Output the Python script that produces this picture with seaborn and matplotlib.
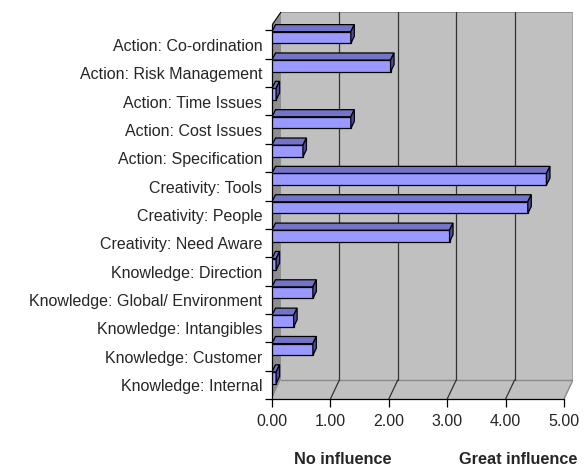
import matplotlib
matplotlib.use('Agg')
import matplotlib.pyplot as plt
import matplotlib.transforms as mtransforms
from matplotlib.patches import Polygon
import numpy as np
import pandas as pd
import seaborn as sns

# data
categories = ['Action: Co-ordination', 'Action: Risk Management',
              'Action: Time Issues', 'Action: Cost Issues',
              'Action: Specification', 'Creativity: Tools',
              'Creativity: People', 'Creativity: Need Aware',
              'Knowledge: Direction', 'Knowledge: Global/ Environment',
              'Knowledge: Intangibles', 'Knowledge: Customer',
              'Knowledge: Internal']
values = [1.35, 2.03, 0.07, 1.35, 0.53, 4.70, 4.38, 3.04, 0.07, 0.70,
          0.37, 0.70, 0.07]
x_ticks = [0, 1, 2, 3, 4, 5]
x_tick_labels = ['0.00', '1.00', '2.00', '3.00', '4.00', '5.00']
scale_labels = ['No influence', 'Great influence']

sns.set_style('white')
plt.rcParams['font.family'] = ['Liberation Sans', 'DejaVu Sans']

df = pd.DataFrame({'category': categories, 'value': values})

# 3d look: wall depth and bar depth in data units
wall_dx, wall_dy = 0.154, 0.67
bar_dx, bar_dy = 0.06, 0.25
y_top, y_front_top, y_floor, y_bottom = -0.90, -0.44, 12.08, 12.75
x_max = 5 + wall_dx

fig = plt.figure(figsize=(5.87, 4.68), dpi=100)
ax = fig.add_axes([272 / 587, 69 / 468, 301 / 587, 387 / 468])
ax.set_facecolor('white')

# back wall, left wall and floor
ax.add_patch(Polygon([(wall_dx, y_top), (x_max, y_top), (x_max, y_floor),
                      (wall_dx, y_floor)], closed=True, facecolor='#c0c0c0',
                     edgecolor='none', zorder=0))
ax.add_patch(Polygon([(0, y_bottom), (5, y_bottom), (x_max, y_floor),
                      (wall_dx, y_floor)], closed=True, facecolor='#c0c0c0',
                     edgecolor='none', zorder=0))
ax.add_patch(Polygon([(0, y_front_top), (wall_dx, y_top), (wall_dx, y_floor),
                      (0, y_bottom)], closed=True, facecolor='#8e8e8e',
                     edgecolor='none', zorder=0.2))
ax.plot([wall_dx, x_max], [y_top, y_top], color='#888888', lw=1.2, zorder=0.5)
ax.plot([x_max, x_max], [y_top, y_floor], color='#a0a0a0', lw=1.2, zorder=0.5)
ax.plot([wall_dx, x_max], [y_floor, y_floor], color='#8a8a8a', lw=1,
        zorder=0.5)
ax.plot([0, wall_dx], [y_front_top, y_top], color='black', lw=0.8, zorder=0.5)
ax.plot([5, x_max], [y_bottom, y_floor], color='#8a8a8a', lw=1, zorder=0.5)

# gridlines on the wall and the floor
for t in x_ticks[1:-1]:
    ax.plot([t + wall_dx, t + wall_dx], [y_top, y_floor], color='#333333',
            lw=0.9, zorder=0.6)
    ax.plot([t, t + wall_dx], [y_bottom, y_floor], color='#333333', lw=0.9,
            zorder=0.6)

sns.barplot(data=df, x='value', y='category', orient='h', width=0.41,
            color='#9999ff', edgecolor='black', linewidth=0.9,
            saturation=1, ax=ax, zorder=3)

# top and side faces of each bar
for bar in ax.patches:
    if not hasattr(bar, 'get_width') or isinstance(bar, Polygon):
        continue
    x0, y0 = bar.get_x(), bar.get_y()
    w, h = bar.get_width(), bar.get_height()
    top = [(x0, y0), (x0 + w, y0), (x0 + w + bar_dx, y0 - bar_dy),
           (x0 + bar_dx, y0 - bar_dy)]
    side = [(x0 + w, y0), (x0 + w, y0 + h), (x0 + w + bar_dx, y0 + h - bar_dy),
            (x0 + w + bar_dx, y0 - bar_dy)]
    ax.add_patch(Polygon(top, closed=True, facecolor='#7373c8',
                         edgecolor='black', lw=0.9, zorder=3))
    ax.add_patch(Polygon(side, closed=True, facecolor='#4d4d99',
                         edgecolor='black', lw=0.9, zorder=3))

ax.set_xlim(0, x_max)
ax.set_ylim(y_bottom, y_top)
ax.set_xlabel('')
ax.set_ylabel('')

ax.set_yticks(np.arange(len(categories)) + 0.26)
ax.set_yticklabels(categories, fontsize=11.5)
ax.set_yticks(np.arange(len(categories) + 1) - 0.25, minor=True)
ax.tick_params(axis='y', which='major', length=0, pad=7)
ax.tick_params(axis='y', which='minor', length=5, width=0.9, direction='out',
               color='black', left=True)

ax.set_xticks(x_ticks)
ax.set_xticklabels(x_tick_labels, fontsize=11.5)
ax.tick_params(axis='x', length=6, width=0.9, direction='out', pad=5,
               color='black', bottom=True)

for side_name in ['top', 'right']:
    ax.spines[side_name].set_visible(False)
ax.spines['left'].set_bounds(y_front_top, y_bottom)
ax.spines['bottom'].set_bounds(0, 5)
for side_name in ['left', 'bottom']:
    ax.spines[side_name].set_color('black')
    ax.spines[side_name].set_linewidth(0.9)

trans = mtransforms.blended_transform_factory(ax.transData, fig.transFigure)
for x_pos, text in zip([1.22, 4.22], scale_labels):
    fig.text(x_pos, 1 - 460 / 468, text, transform=trans, ha='center',
             va='center', fontsize=11.7, fontweight='bold')

fig.savefig('out.png', dpi=100)
